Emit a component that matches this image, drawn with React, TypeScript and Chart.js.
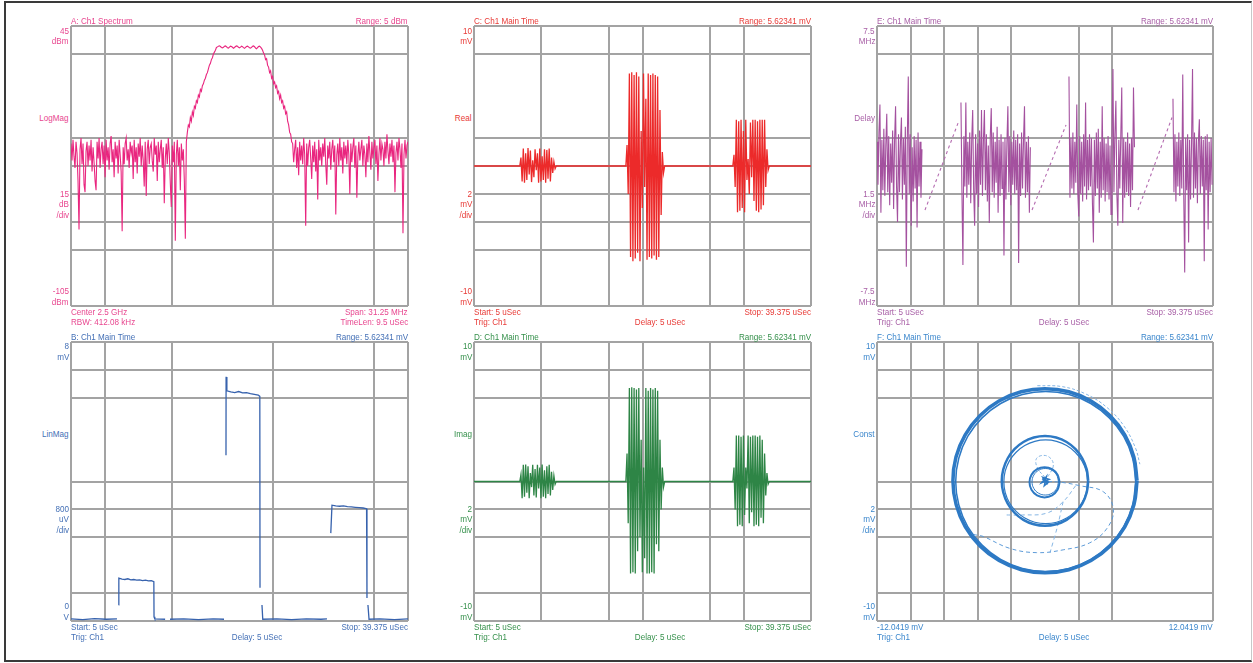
import React, { useEffect, useRef } from "react";
import { Chart, registerables } from "chart.js";

Chart.register(...registerables);

// ---------------- Panel A : spectrum (LogMag, dBm), one sample per display column ----------------
const spectrumStartMHz = -15.625;
const spectrumStopMHz = 15.625;
const spectrumLeftNoise = [
  -18, -27, -16, -25, -31, -17, -23, -38, -64, -21,
  -15, -29, -18, -40, -44, -22, -17, -30, -19, -27,
  -16, -33, -20, -28, -38, -43, -17, -26, -15, -31,
  -21, -17, -29, -19, -36, -16, -27, -20, -32, -18,
  -14, -28, -21, -36, -17, -26, -19, -34, -16, -24,
  -33, -65, -20, -29, -18, -15, -27, -21, -31, -17,
  -23, -19, -37, -16, -28, -20, -34, -18, -25, -15,
  -30, -19, -27, -41, -17, -46, -21, -16, -29, -20,
  -18, -27, -33, -15, -24, -19, -38, -17, -28, -21,
  -16, -31, -20, -50, -26, -18, -29, -15, -23, -39,
  -52, -19, -28, -17, -70, -24, -16, -30, -20, -43,
  -18, -27, -21, -38, -69, -17,
];
const spectrumRise = [-12, -8, -9, -4, -6, -1, -3, 2, 1, 5, 4, 8, 7, 11, 10, 13, 14, 16, 17, 19, 20, 22, 24, 25, 27, 28, 30, 31, 32, 33.5];
const spectrumPlateau = [
  33.8, 34.2, 34.4, 34.0, 33.5, 33.3, 33.6, 34.1, 34.3, 33.9,
  33.4, 33.2, 33.7, 34.2, 34.0, 33.6, 33.1, 33.5, 34.0, 34.3,
  34.1, 33.6, 33.3, 33.7, 34.2, 33.9, 33.4, 33.0, 33.5, 34.0,
  34.2, 33.8, 33.3, 33.1, 33.6, 34.1, 34.3, 33.9, 33.2, 32.8,
  33.4, 34.0, 34.2, 33.7, 33.0,
];
const spectrumFall = [32, 30.5, 29.5, 27, 27.5, 24, 23, 20, 21, 17, 18, 14, 15, 12, 13, 9, 10, 6, 8, 4, 5, 1, 2, -2, -1, -6, -8, -12, -13, -17];
const spectrumRightNoise = [
  -18, -28, -21, -16, -31, -20, -35, -17, -27, -19,
  -29, -15, -24, -62, -18, -30, -20, -16, -26, -37,
  -19, -28, -17, -33, -21, -48, -16, -27, -20, -30,
  -18, -25, -15, -29, -40, -19, -26, -17, -32, -21,
  -16, -28, -19, -56, -24, -18, -30, -15, -27, -20,
  -34, -17, -26, -19, -29, -16, -24, -45, -18, -28,
  -20, -15, -31, -19, -47, -25, -17, -27, -21, -16,
  -30, -19, -24, -36, -18, -28, -14, -23, -32, -17,
  -26, -20, -16, -29, -19, -38, -24, -15, -27, -18,
  -21, -30, -17, -26, -13, -22, -29, -18, -25, -16,
  -28, -19, -44, -23, -17, -27, -15, -21, -31, -18,
  -66, -24, -16, -26, -19, -17,
];

// ---------------- Time record (uSec) ----------------
const timeStartUs = 5;
const timeStopUs = 39.375;

// Panels C / D : Real and Imag bursts (mV)
const burstStartUs = [9.79, 20.61, 31.52];
const burstStepUs = 0.12;
const realBurst1 = [0.6, -1.1, 1.25, -1.2, 0.9, -1.0, 1.28, -0.6, 1.1, -1.15, 0.4, -0.8, 1.2, -0.3, 0.9, -1.2, 1.25, -1.1, 0.7, -1.0, 1.2, -1.2, 1.15, -0.9, 1.25, -1.1, 0.6, -0.5, 0.3, -0.2];
const realBurst2 = [1.5, -2.0, 6.6, -6.5, 6.7, -6.8, 6.5, -6.6, 6.7, -6.2, 6.4, -6.8, 2.5, -3.0, 6.6, -1.5, 4.8, -6.7, 6.6, -6.5, 6.5, -6.6, 6.6, -6.4, 6.5, -6.7, 6.4, -6.5, 4.0, -3.5, 1.0, -0.5];
const realBurst3 = [0.8, -1.5, 3.3, -3.3, 3.2, -3.2, 3.3, -3.0, 2.5, -3.3, 3.3, -1.0, 0.5, -2.0, 3.1, -0.8, 3.3, -2.5, 3.3, -3.2, 3.2, -3.3, 3.3, -3.1, 3.3, -2.8, 3.3, -1.5, 1.2, -0.3];
const imagBurst1 = [0.5, -1.2, 1.2, -1.1, 1.22, -0.8, 1.1, -1.2, 0.6, -0.4, 1.2, -1.0, 0.9, -1.15, 1.2, -0.5, 1.0, -1.2, 1.22, -1.1, 0.8, -1.2, 1.1, -0.9, 1.2, -1.0, 0.7, -0.6, 0.4, -0.2];
const imagBurst2 = [2.0, -3.0, 6.7, -6.6, 6.75, -6.5, 6.7, -6.6, 6.6, -5.0, 6.7, -4.0, 3.0, -6.5, 1.0, -5.5, 6.7, -6.6, 6.5, -6.6, 6.7, -6.5, 6.6, -6.6, 6.7, -4.5, 6.5, -5.0, 3.0, -2.0, 1.0, -0.4];
const imagBurst3 = [1.0, -2.0, 3.3, -3.2, 3.3, -3.1, 3.2, -3.2, 3.3, -2.4, 1.0, -0.5, 3.3, -3.0, 3.2, -2.2, 3.3, -3.2, 3.3, -3.1, 3.2, -3.2, 3.3, -2.6, 3.0, -3.0, 2.0, -1.0, 0.6, -0.2];

// Panel B : LinMag (mV), null = gap in trace
const linMagTimeUs = [
  5, 6.2, 7.4, 8.6, 9.69, 9.75, 9.85, 9.88, 10.2, 10.5, 10.8, 11.1, 11.4, 11.7, 12.0, 12.3, 12.6, 12.9, 13.2, 13.45,
  13.47, 13.55, 14.6, 14.8, 15.1, 16.5, 18.0, 19.5, 20.61, 20.7, 20.81, 20.82, 20.9, 21.3, 21.7, 22.1, 22.5, 22.9,
  23.3, 23.7, 24.1, 24.26, 24.28, 24.38, 24.48, 24.56, 26.0, 27.5, 29.0, 30.5, 31.11, 31.3, 31.5, 31.62, 32.0,
  32.4, 32.8, 33.2, 33.6, 34.0, 34.4, 34.8, 35.15, 35.19, 35.24, 35.29, 35.4, 36.5, 38.0, 39.375,
];
const linMagMv = [
  0.06, 0.04, 0.07, 0.05, 0.06, null, 0.46, 1.23, 1.2, 1.19, 1.21, 1.18, 1.19, 1.17, 1.18, 1.16, 1.17, 1.15, 1.16, 1.13,
  0.12, 0.06, 0.05, null, 0.05, 0.06, 0.04, 0.06, 0.05, null, 4.75, 7.0, 6.6, 6.57, 6.55, 6.58, 6.54, 6.55,
  6.52, 6.5, 6.48, 6.44, 0.95, null, 0.46, 0.05, 0.06, 0.04, 0.06, 0.05, 0.06, null, 2.52, 3.32, 3.3,
  3.29, 3.3, 3.28, 3.27, 3.26, 3.25, 3.24, 3.22, 0.66, null, 0.46, 0.05, 0.06, 0.04, 0.06,
];

// Panel E : group delay (MHz)
const delayRegionStartUs = [5, 13.59, 24.64, 35.28];
const delayStepUs = 0.1;
const delayNoise1 = [
  1.3, -1.0, 1.8, 3.3, -2.5, 1.4, -1.3, 2.0, -1.6, 1.1,
  2.8, -1.4, 1.6, -2.1, 1.2, -0.9, 1.9, -2.3, 1.4, 3.2,
  -1.1, -3.0, 1.7, -1.4, 1.3, 2.6, -1.8, 1.5, -1.0, 2.1,
  -5.4, 1.4, 4.8, -1.5, 1.7, -3.2, 1.0, -1.9, 1.6, -1.2,
  1.4, -3.3, 1.8, -1.1, 1.3, -1.7, 0.9,
];
const delayNoise2 = [
  3.4, -1.4, -5.3, 1.6, -1.1, 3.4, -1.7, 1.3, -1.0, 1.8,
  -2.0, 1.4, 3.0, -1.3, -3.2, 1.7, -1.5, 1.2, -2.2, 1.9,
  -1.0, 3.0, -1.6, 1.4, 3.0, -1.3, 1.7, -1.9, 1.1, -3.05,
  1.6, 3.1, -1.4, 1.8, -1.7, 1.3, -0.9, 2.1, -2.5, 1.4,
  -1.6, 1.7, -1.2, 1.3, -4.8, 1.5, -1.8, 1.2, 3.2, -1.4,
  1.6, -2.1, 1.3, -1.0, 1.9, -1.5, 1.4, -1.3, 1.7, -5.2,
  1.2, -1.6, 1.8, -1.2, 1.4, 3.2, -1.7, 1.3, -1.4, 1.6,
  -2.5, 1.0,
];
const delayNoise3 = [
  4.8, -1.7, 1.5, -1.2, 1.8, -1.5, 1.3, -0.9, 3.3, -1.4,
  -2.7, 1.6, -1.5, 1.3, -1.9, 1.7, -1.1, 3.4, -1.8, 1.4,
  -1.3, 1.7, -1.1, 1.5, -2.0, -4.1, 1.4, -1.6, 1.8, -1.2,
  2.0, -2.5, 1.3, -1.7, 3.2, -1.3, 1.5, -1.9, 1.2, -1.4,
  1.6, -1.8, 1.1, -2.6, 1.5, 5.2, -1.4, 1.7, 3.5, -1.5,
  -3.2, 1.4, -1.2, 1.6, 4.2, -3.05, 1.5, -1.7, 1.3, -1.4,
  1.8, -1.6, 1.2, -2.2, 1.5, -1.3, 4.2, 1.0,
];
const delayNoise4 = [
  3.6, -1.4, 1.7, -1.9, 1.3, -1.1, 1.8, -1.6, 1.4, -1.2,
  4.9, -1.5, -5.7, 1.5, -1.3, 1.7, -4.1, 1.4, -1.8, 1.2,
  5.2, -1.7, 1.8, -1.2, 1.5, -2.0, 1.3, 2.5, -1.5, 1.6,
  -1.1, 1.4, -5.1, 1.6, -1.3, 1.7, -3.4, 1.3, -1.4, 1.5,
  -1.0,
];
const delayRampStartUs = [9.91, 20.86, 31.7];
const delayRampEndUs = [13.29, 24.34, 35.18];
const delayRampStartMHz = [-2.36, -2.36, -2.36];
const delayRampEndMHz = [2.3, 2.2, 2.6];

// Panel F : constellation (I / Q in mV)
const outerRingI = [6.6, 6.37, 5.72, 4.67, 3.3, 1.71, 0, -1.71, -3.3, -4.67, -5.72, -6.38, -6.6, -6.37, -5.71, -4.66, -3.29, -1.7, 0, 1.71, 3.3, 4.67, 5.72, 6.38, 6.6];
const outerRingQ = [0.05, 1.76, 3.35, 4.72, 5.77, 6.43, 6.65, 6.43, 5.77, 4.72, 3.35, 1.76, 0.05, -1.66, -3.25, -4.62, -5.67, -6.33, -6.55, -6.33, -5.67, -4.62, -3.25, -1.66, 0.05];
const outerRing2I = [6.5, 6.28, 5.64, 4.61, 3.28, 1.72, 0.05, -1.62, -3.18, -4.51, -5.54, -6.18, -6.4, -6.18, -5.54, -4.51, -3.18, -1.62, 0.05, 1.72, 3.28, 4.61, 5.64, 6.28, 6.5];
const outerRing2Q = [0, 1.67, 3.23, 4.56, 5.59, 6.23, 6.45, 6.23, 5.59, 4.56, 3.23, 1.67, 0, -1.67, -3.23, -4.56, -5.59, -6.23, -6.45, -6.23, -5.59, -4.56, -3.23, -1.67, 0];
const outerArcI = [-0.55, 1.24, 2.95, 4.45, 5.66, 6.49, 6.8];
const outerArcQ = [6.87, 6.8, 6.26, 5.3, 3.98, 2.39, 1.24];
const middleRingI = [3.1, 2.99, 2.68, 2.19, 1.55, 0.8, 0, -0.8, -1.55, -2.19, -2.68, -2.99, -3.1, -2.99, -2.68, -2.19, -1.55, -0.8, 0, 0.8, 1.55, 2.19, 2.68, 2.99, 3.1];
const middleRingQ = [0.04, 0.87, 1.65, 2.32, 2.83, 3.15, 3.26, 3.15, 2.83, 2.32, 1.65, 0.87, 0.04, -0.79, -1.57, -2.24, -2.75, -3.07, -3.18, -3.07, -2.75, -2.24, -1.57, -0.79, 0.04];
const middleRing2I = [3.05, 2.95, 2.65, 2.17, 1.55, 0.83, 0.05, -0.73, -1.45, -2.07, -2.55, -2.85, -2.95, -2.85, -2.55, -2.07, -1.45, -0.73, 0.05, 0.83, 1.55, 2.17, 2.65, 2.95, 3.05];
const middleRing2Q = [-0.02, 0.76, 1.48, 2.1, 2.58, 2.88, 2.98, 2.88, 2.58, 2.1, 1.48, 0.76, -0.02, -0.8, -1.52, -2.14, -2.62, -2.92, -3.02, -2.92, -2.62, -2.14, -1.52, -0.8, -0.02];
const innerRingI = [1.05, 0.9, 0.51, -0.03, -0.57, -0.97, -1.11, -0.97, -0.57, -0.03, 0.51, 0.9, 1.05];
const innerRingQ = [-0.06, 0.48, 0.88, 1.02, 0.88, 0.48, -0.06, -0.6, -1.0, -1.14, -1.0, -0.6, -0.06];
const innerRing2I = [0.97, 0.84, 0.5, 0.02, -0.46, -0.8, -0.93, -0.8, -0.46, 0.02, 0.5, 0.84, 0.97];
const innerRing2Q = [-0.02, 0.46, 0.8, 0.93, 0.8, 0.46, -0.02, -0.5, -0.84, -0.97, -0.84, -0.5, -0.02];
const centerI = [0.0, 0.2, -0.15, 0.3, -0.25, 0.1, -0.05, 0.25, -0.2, 0.05];
const centerQ = [0.1, -0.2, 0.3, 0.15, -0.1, 0.35, -0.3, -0.05, 0.2, 0.0];
const loopI = [0, -0.5, -0.65, -0.3, 0.3, 0.6, 0.3, 0];
const loopQ = [0.3, 0.9, 1.55, 1.85, 1.75, 1.2, 0.5, 0.1];
const spiralI = [0.2, 1.1, 2.5, 4.2, 4.9, 4.45, 3.2, 1.3, -0.6, -2.5, -4.4, -5.4, -6.45];
const spiralQ = [0.0, -0.05, -0.3, -0.75, -2.0, -3.35, -4.4, -4.9, -5.1, -4.8, -3.95, -3.6, -1.3];
const chordI = [1.3, 0.9, 0.36];
const chordQ = [-1.45, -3.2, -5.1];
const innerArcI = [-2.75, -1.6, 0.15, 1.3, 2.2];
const innerArcQ = [-2.4, -2.4, -2.26, -1.45, -0.3];

// ---------------- Layout / style ----------------
const GRID = "#a3a3a3";
const FONT = '"Liberation Sans", Arial, Helvetica, sans-serif';
const cols = [
  { l: 71, r: 408 },
  { l: 474, r: 811 },
  { l: 877, r: 1213 },
];
const rows = [
  { t: 26, b: 306, y: { header: 21, topV: 31, topU: 41, name: 118, s1: 194, s2: 204, s3: 215, botV: 291, botU: 302, f1: 312, f2: 322 } },
  { t: 342, b: 621, y: { header: 337, topV: 346, topU: 357, name: 434, s1: 509, s2: 519, s3: 530, botV: 606, botU: 617, f1: 627, f2: 637 } },
];
const colGridVisible = [
  [0, 1, 3, 6, 9, 10],
  [0, 2, 4, 5, 7, 8, 10],
  [0, 1, 2, 3, 4, 6, 7, 10],
];
const rowGridVisible = [
  [0, 1, 4, 5, 6, 7, 8, 10],
  [0, 1, 2, 5, 6, 7, 9, 10],
];
const centerFootX = [257, 660, 1064];

type AxisDef = { min: number; max: number; div: number; vis: number[]; vertical: boolean };

function axisOptions(a: AxisDef) {
  return {
    type: "linear",
    min: a.min,
    max: a.max,
    afterBuildTicks: (scale: any) => {
      const t: any[] = [];
      for (let i = 0; i <= a.div; i++) t.push({ value: a.min + ((a.max - a.min) * i) / a.div });
      scale.ticks = t;
    },
    ticks: { display: false },
    border: { display: false },
    grid: {
      drawTicks: false,
      lineWidth: 2,
      color: (ctx: any) => {
        const idx = a.vertical ? a.div - ctx.index : ctx.index;
        return a.vis.includes(idx) ? GRID : "rgba(0,0,0,0)";
      },
    },
  };
}

function line(data: any[], color: string, width: number, extra: any = {}) {
  return { data, showLine: true, borderColor: color, backgroundColor: color, borderWidth: width, pointRadius: 0, tension: 0, spanGaps: false, fill: false, ...extra };
}

function makeConfig(datasets: any[], x: AxisDef, y: AxisDef) {
  return {
    type: "scatter",
    data: { datasets },
    options: {
      animation: false,
      responsive: false,
      maintainAspectRatio: false,
      events: [],
      layout: { padding: 2 },
      plugins: { legend: { display: false }, tooltip: { enabled: false } },
      scales: { x: axisOptions(x), y: axisOptions(y) },
    },
  };
}

function burstTrace(bursts: number[][]) {
  const pts: any[] = [{ x: timeStartUs, y: 0 }];
  bursts.forEach((vals, b) => {
    const t0 = burstStartUs[b];
    pts.push({ x: t0 - burstStepUs, y: 0 });
    vals.forEach((v, k) => pts.push({ x: t0 + k * burstStepUs, y: v }));
    pts.push({ x: t0 + vals.length * burstStepUs, y: 0 });
  });
  pts.push({ x: timeStopUs, y: 0 });
  return pts;
}

function pairs(xs: number[], ys: (number | null)[]) {
  return xs.map((x, i) => ({ x, y: ys[i] }));
}

const timeAxis = (c: number): AxisDef => ({ min: timeStartUs, max: timeStopUs, div: 10, vis: colGridVisible[c], vertical: false });

function buildConfigs() {
  const spectrumDbm = [...spectrumLeftNoise, ...spectrumRise, ...spectrumPlateau, ...spectrumFall, ...spectrumRightNoise];
  const spectrumStep = (spectrumStopMHz - spectrumStartMHz) / (spectrumDbm.length - 1);
  const spectrum = spectrumDbm.map((v, i) => ({ x: spectrumStartMHz + i * spectrumStep, y: v }));

  const delayNoise = [delayNoise1, delayNoise2, delayNoise3, delayNoise4];
  const delayData: any[] = [];
  delayNoise.forEach((vals, r) => {
    vals.forEach((v, k) => delayData.push({ x: delayRegionStartUs[r] + k * delayStepUs, y: v }));
    delayData.push({ x: delayRegionStartUs[r] + vals.length * delayStepUs, y: null });
  });
  const rampData: any[] = [];
  delayRampStartUs.forEach((t, i) => {
    rampData.push({ x: t, y: delayRampStartMHz[i] });
    rampData.push({ x: delayRampEndUs[i], y: delayRampEndMHz[i] });
    rampData.push({ x: delayRampEndUs[i] + 0.01, y: null });
  });

  const constBlue = "#2d79c4";
  const constLight = "#86b6e4";

  return [
    {
      left: cols[0].l, top: rows[0].t, w: cols[0].r - cols[0].l, h: rows[0].b - rows[0].t,
      config: makeConfig([line(spectrum, "#e9267f", 1.1)],
        { min: spectrumStartMHz, max: spectrumStopMHz, div: 10, vis: colGridVisible[0], vertical: false },
        { min: -105, max: 45, div: 10, vis: rowGridVisible[0], vertical: true }),
    },
    {
      left: cols[1].l, top: rows[0].t, w: cols[1].r - cols[1].l, h: rows[0].b - rows[0].t,
      config: makeConfig([line(burstTrace([realBurst1, realBurst2, realBurst3]), "#ec2a2a", 1.3)],
        timeAxis(1), { min: -10, max: 10, div: 10, vis: rowGridVisible[0], vertical: true }),
    },
    {
      left: cols[2].l, top: rows[0].t, w: cols[2].r - cols[2].l, h: rows[0].b - rows[0].t,
      config: makeConfig([
        line(delayData, "#a4519f", 1.1),
        line(rampData, "#b46bb0", 1.1, { borderDash: [3, 3] }),
      ], timeAxis(2), { min: -7.5, max: 7.5, div: 10, vis: rowGridVisible[0], vertical: true }),
    },
    {
      left: cols[0].l, top: rows[1].t, w: cols[0].r - cols[0].l, h: rows[1].b - rows[1].t,
      config: makeConfig([line(pairs(linMagTimeUs, linMagMv), "#3762ad", 1.3)],
        timeAxis(0), { min: 0, max: 8, div: 10, vis: rowGridVisible[1], vertical: true }),
    },
    {
      left: cols[1].l, top: rows[1].t, w: cols[1].r - cols[1].l, h: rows[1].b - rows[1].t,
      config: makeConfig([line(burstTrace([imagBurst1, imagBurst2, imagBurst3]), "#2e8546", 1.3)],
        timeAxis(1), { min: -10, max: 10, div: 10, vis: rowGridVisible[1], vertical: true }),
    },
    {
      left: cols[2].l, top: rows[1].t, w: cols[2].r - cols[2].l, h: rows[1].b - rows[1].t,
      config: makeConfig([
        line(pairs(outerRingI, outerRingQ), constBlue, 3.5, { tension: 0.4 }),
        line(pairs(outerRing2I, outerRing2Q), constBlue, 1.5, { tension: 0.4 }),
        line(pairs(outerArcI, outerArcQ), constLight, 1, { tension: 0.4, borderDash: [3, 2] }),
        line(pairs(middleRingI, middleRingQ), constBlue, 2.5, { tension: 0.4 }),
        line(pairs(middleRing2I, middleRing2Q), constBlue, 1.2, { tension: 0.4 }),
        line(pairs(innerRingI, innerRingQ), constBlue, 2, { tension: 0.4 }),
        line(pairs(innerRing2I, innerRing2Q), constBlue, 1, { tension: 0.4 }),
        line(pairs(centerI, centerQ), constBlue, 1.5),
        line(pairs(loopI, loopQ), constLight, 1, { tension: 0.4, borderDash: [3, 2] }),
        line(pairs(spiralI, spiralQ), "#5d9bd8", 1, { tension: 0.4, borderDash: [4, 3] }),
        line(pairs(chordI, chordQ), constLight, 1, { tension: 0.3, borderDash: [4, 3] }),
        line(pairs(innerArcI, innerArcQ), constLight, 1, { tension: 0.4, borderDash: [4, 3] }),
      ], { min: -12.0419, max: 12.0419, div: 10, vis: colGridVisible[2], vertical: false },
        { min: -10, max: 10, div: 10, vis: rowGridVisible[1], vertical: true }),
    },
  ];
}

type PanelText = {
  color: string; header: string; range: string; topV: string; topU: string; name: string;
  scale: string[]; botV: string; botU: string; footL: string[]; footC?: string; footR: string[];
};

const panelTexts: PanelText[] = [
  { color: "#e8468f", header: "A: Ch1 Spectrum", range: "Range: 5 dBm", topV: "45", topU: "dBm", name: "LogMag", scale: ["15", "dB", "/div"], botV: "-105", botU: "dBm", footL: ["Center 2.5 GHz", "RBW: 412.08 kHz"], footR: ["Span: 31.25 MHz", "TimeLen: 9.5 uSec"] },
  { color: "#e83a36", header: "C: Ch1 Main Time", range: "Range: 5.62341 mV", topV: "10", topU: "mV", name: "Real", scale: ["2", "mV", "/div"], botV: "-10", botU: "mV", footL: ["Start: 5 uSec", "Trig: Ch1"], footC: "Delay: 5 uSec", footR: ["Stop: 39.375 uSec"] },
  { color: "#a85fa6", header: "E: Ch1 Main Time", range: "Range: 5.62341 mV", topV: "7.5", topU: "MHz", name: "Delay", scale: ["1.5", "MHz", "/div"], botV: "-7.5", botU: "MHz", footL: ["Start: 5 uSec", "Trig: Ch1"], footC: "Delay: 5 uSec", footR: ["Stop: 39.375 uSec"] },
  { color: "#4470b6", header: "B: Ch1 Main Time", range: "Range: 5.62341 mV", topV: "8", topU: "mV", name: "LinMag", scale: ["800", "uV", "/div"], botV: "0", botU: "V", footL: ["Start: 5 uSec", "Trig: Ch1"], footC: "Delay: 5 uSec", footR: ["Stop: 39.375 uSec"] },
  { color: "#35904b", header: "D: Ch1 Main Time", range: "Range: 5.62341 mV", topV: "10", topU: "mV", name: "Imag", scale: ["2", "mV", "/div"], botV: "-10", botU: "mV", footL: ["Start: 5 uSec", "Trig: Ch1"], footC: "Delay: 5 uSec", footR: ["Stop: 39.375 uSec"] },
  { color: "#3a86cc", header: "F: Ch1 Main Time", range: "Range: 5.62341 mV", topV: "10", topU: "mV", name: "Const", scale: ["2", "mV", "/div"], botV: "-10", botU: "mV", footL: ["-12.0419 mV", "Trig: Ch1"], footC: "Delay: 5 uSec", footR: ["12.0419 mV"] },
];

function Txt({ x, y, align, color, text }: { x: number; y: number; align: "l" | "r" | "c"; color: string; text: string }) {
  const style: any = {
    position: "absolute", top: y - 6, fontSize: 9, lineHeight: "12px", height: 12, color,
    whiteSpace: "nowrap", fontFamily: FONT,
  };
  if (align === "l") { style.left = x; style.transform = "scaleX(0.9)"; style.transformOrigin = "left center"; }
  else if (align === "r") { style.right = 1253 - x; style.transform = "scaleX(0.9)"; style.transformOrigin = "right center"; }
  else { style.left = x; style.transform = "translateX(-50%) scaleX(0.9)"; style.transformOrigin = "center center"; }
  return <div style={style}>{text}</div>;
}

function ChartCanvas({ left, top, w, h, config }: any) {
  const ref = useRef<HTMLCanvasElement>(null);
  useEffect(() => {
    const chart = new Chart(ref.current as HTMLCanvasElement, config);
    return () => chart.destroy();
  }, []);
  return (
    <canvas
      ref={ref}
      width={w + 4}
      height={h + 4}
      style={{ position: "absolute", left: left - 2, top: top - 2, width: w + 4, height: h + 4 }}
    />
  );
}

export default function App() {
  const configs = buildConfigs();
  const labels: any[] = [];
  panelTexts.forEach((p, i) => {
    const r = Math.floor(i / 3);
    const c = i % 3;
    const col = cols[c];
    const ry = rows[r].y;
    const yl = col.l - 2;
    const k = `p${i}`;
    labels.push(<Txt key={k + "h"} x={col.l} y={ry.header} align="l" color={p.color} text={p.header} />);
    labels.push(<Txt key={k + "rg"} x={col.r} y={ry.header} align="r" color={p.color} text={p.range} />);
    labels.push(<Txt key={k + "tv"} x={yl} y={ry.topV} align="r" color={p.color} text={p.topV} />);
    labels.push(<Txt key={k + "tu"} x={yl} y={ry.topU} align="r" color={p.color} text={p.topU} />);
    labels.push(<Txt key={k + "nm"} x={yl} y={ry.name} align="r" color={p.color} text={p.name} />);
    labels.push(<Txt key={k + "s1"} x={yl} y={ry.s1} align="r" color={p.color} text={p.scale[0]} />);
    labels.push(<Txt key={k + "s2"} x={yl} y={ry.s2} align="r" color={p.color} text={p.scale[1]} />);
    labels.push(<Txt key={k + "s3"} x={yl} y={ry.s3} align="r" color={p.color} text={p.scale[2]} />);
    labels.push(<Txt key={k + "bv"} x={yl} y={ry.botV} align="r" color={p.color} text={p.botV} />);
    labels.push(<Txt key={k + "bu"} x={yl} y={ry.botU} align="r" color={p.color} text={p.botU} />);
    p.footL.forEach((t, j) => labels.push(<Txt key={k + "fl" + j} x={col.l} y={j === 0 ? ry.f1 : ry.f2} align="l" color={p.color} text={t} />));
    p.footR.forEach((t, j) => labels.push(<Txt key={k + "fr" + j} x={col.r} y={j === 0 ? ry.f1 : ry.f2} align="r" color={p.color} text={t} />));
    if (p.footC) labels.push(<Txt key={k + "fc"} x={centerFootX[c]} y={ry.f2} align="c" color={p.color} text={p.footC} />);
  });

  return (
    <div style={{ position: "absolute", left: 0, top: 0, width: 1253, height: 663, background: "#ffffff", overflow: "hidden" }}>
      <div
        style={{
          position: "absolute", left: 4, top: 1, width: 1248, height: 661, boxSizing: "border-box",
          borderLeft: "2px solid #3a3a3a", borderTop: "2px solid #3a3a3a", borderBottom: "2px solid #3a3a3a",
          borderRight: "1px solid #c8c8c8",
        }}
      />
      {configs.map((c, i) => (
        <ChartCanvas key={i} {...c} />
      ))}
      {labels}
    </div>
  );
}
